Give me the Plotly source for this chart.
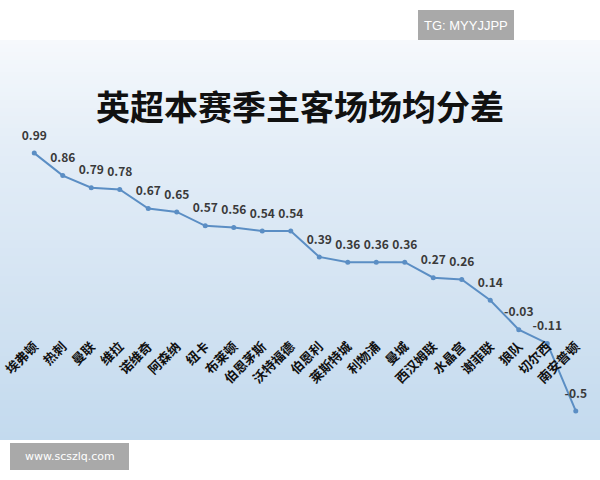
import plotly.graph_objects as go

teams = ["埃弗顿", "热刺", "曼联", "维拉", "诺维奇", "阿森纳", "纽卡", "布莱顿", "伯恩茅斯", "沃特福德",
         "伯恩利", "莱斯特城", "利物浦", "曼城", "西汉姆联", "水晶宫", "谢菲联", "狼队", "切尔西", "南安普顿"]
diff = [0.99, 0.86, 0.79, 0.78, 0.67, 0.65, 0.57, 0.56, 0.54, 0.54,
        0.39, 0.36, 0.36, 0.36, 0.27, 0.26, 0.14, -0.03, -0.11, -0.5]
labels = [f"{v:g}" for v in diff]

W, H = 600, 480
ML, MR, MT, MB = 20, 10, 60, 50
YMIN, YMAX = -0.61, 1.528

FONT = "Noto Sans CJK SC"

def px_to_paper_x(px):
    return (px - ML) / (W - ML - MR)

def px_to_paper_y(py):
    return (H - MB - py) / (H - MT - MB)

# background gradient (style only)
def lerp(c1, c2, t):
    return tuple(round(a + (b - a) * t) for a, b in zip(c1, c2))

stops = [(40, (246, 249, 252)), (150, (227, 237, 247)), (300, (211, 227, 242)), (440, (195, 218, 238))]
shapes = []
step = 4
for y0 in range(40, 440, step):
    yc = y0 + step / 2
    for (ya, ca), (yb, cb) in zip(stops[:-1], stops[1:]):
        if ya <= yc <= yb:
            c = lerp(ca, cb, (yc - ya) / (yb - ya))
            break
    shapes.append(dict(type="rect", xref="paper", yref="paper", layer="below",
                       x0=px_to_paper_x(0), x1=px_to_paper_x(600),
                       y0=px_to_paper_y(min(y0 + step + 0.5, 440)), y1=px_to_paper_y(y0),
                       fillcolor=f"rgb{c}", line=dict(width=0)))

# watermark boxes
shapes.append(dict(type="rect", xref="paper", yref="paper",
                   x0=px_to_paper_x(418), x1=px_to_paper_x(514),
                   y0=px_to_paper_y(40), y1=px_to_paper_y(10),
                   fillcolor="#a9a9a9", line=dict(width=0)))
shapes.append(dict(type="rect", xref="paper", yref="paper",
                   x0=px_to_paper_x(10), x1=px_to_paper_x(129),
                   y0=px_to_paper_y(470), y1=px_to_paper_y(443),
                   fillcolor="#a9a9a9", line=dict(width=0)))

fig = go.Figure()
fig.add_trace(go.Scatter(
    x=teams, y=diff, mode="lines+markers",
    line=dict(color="#5b8ec4", width=2),
    marker=dict(color="#5b8ec4", size=5),
    cliponaxis=False, showlegend=False, hoverinfo="skip",
))
# value labels (transparent larger markers give extra spacing above the points)
fig.add_trace(go.Scatter(
    x=teams, y=diff, mode="markers+text",
    marker=dict(color="rgba(0,0,0,0)", size=15),
    text=labels, textposition="top center",
    textfont=dict(family=FONT, size=12, color="#3a3a3a", weight="bold"),
    cliponaxis=False, showlegend=False,
))

# category axis sits at value 0, labels a little below it
axis_pos = (0 - YMIN) / (YMAX - YMIN) - 11 / (H - MT - MB)

fig.update_layout(
    width=W, height=H,
    margin=dict(l=ML, r=MR, t=MT, b=MB, autoexpand=False),
    paper_bgcolor="white", plot_bgcolor="rgba(0,0,0,0)",
    shapes=shapes,
    font=dict(family=FONT),
    xaxis=dict(type="category", anchor="free", position=axis_pos, automargin=False,
               tickangle=-45, showgrid=False, showline=False, zeroline=False,
               ticks="",
               tickfont=dict(family=FONT, size=13, color="#111111", weight="bold"),
               range=[-0.5, len(teams) - 0.5]),
    yaxis=dict(range=[YMIN, YMAX], visible=False, automargin=False),
    annotations=[
        dict(text="英超本赛季主客场场均分差", xref="paper", yref="paper",
             x=px_to_paper_x(300), y=px_to_paper_y(105), xanchor="center", yanchor="middle",
             showarrow=False, font=dict(family=FONT, size=34, color="#111111", weight="bold")),
        dict(text="TG: MYYJJPP", xref="paper", yref="paper",
             x=px_to_paper_x(466), y=px_to_paper_y(25), xanchor="center", yanchor="middle",
             showarrow=False, font=dict(family="Liberation Sans", size=13, color="white")),
        dict(text="www.scszlq.com", xref="paper", yref="paper",
             x=px_to_paper_x(69.5), y=px_to_paper_y(456.5), xanchor="center", yanchor="middle",
             showarrow=False, font=dict(family="DejaVu Sans", size=11, color="white")),
    ],
)

fig.write_html("out.html", config={"displayModeBar": False},
               post_script="document.body.style.margin='0';")
